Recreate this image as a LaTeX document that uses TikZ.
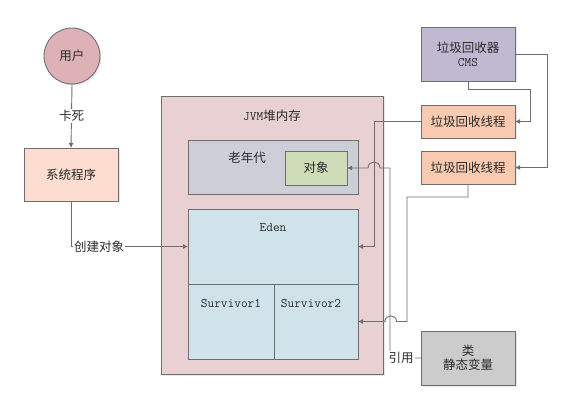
\documentclass[tikz,border=0pt]{standalone}
\usepackage{fontspec}
\setmainfont{Noto Sans CJK SC}
\newcommand{\lmono}{\ttfamily}
\usetikzlibrary{arrows.meta,shadows}
\definecolor{linec}{HTML}{6E6E6E}
\definecolor{txtc}{HTML}{2A2A2A}
\definecolor{userc}{HTML}{DDB1B5}
\definecolor{sysc}{HTML}{FCDDD0}
\definecolor{jvmc}{HTML}{E9D1D3}
\definecolor{oldc}{HTML}{CDCFD8}
\definecolor{objc}{HTML}{CEDCB8}
\definecolor{edenc}{HTML}{D1E3EA}
\definecolor{cmsc}{HTML}{C1B9D1}
\definecolor{thrc}{HTML}{F9C9B0}
\definecolor{clsc}{HTML}{CCCCCC}
\begin{document}
\begin{tikzpicture}[x=1pt,y=-1pt,
  every node/.style={text=txtc, font=\fontsize{12.5}{15}\selectfont},
  box/.style={draw=linec, line width=0.9pt, inner sep=0pt, outer sep=0pt, anchor=north west,
    drop shadow={shadow xshift=1.5pt, shadow yshift=-1.5pt, fill=black!15, opacity=0.6}},
  plainbox/.style={draw=linec, line width=0.9pt, inner sep=0pt, outer sep=0pt, anchor=north west},
  conn/.style={draw=linec, line width=0.9pt, -{Latex[length=5pt,width=5pt]}},
  lbl/.style={fill=white, inner sep=1pt},
  mono/.style={font=\lmono\fontsize{13}{15}\selectfont}]
\useasboundingbox (0,0) rectangle (579,409);
% user
\node[draw=linec, line width=0.9pt, circle, fill=userc, minimum size=56pt, inner sep=0pt, outer sep=0pt,
  drop shadow={shadow xshift=1.5pt, shadow yshift=-1.5pt, fill=black!15, opacity=0.6}] (user) at (72,56) {用户};
\node[box, fill=sysc, minimum width=94pt, minimum height=53pt] (sys) at (24,148) {系统程序};
% JVM heap
\node[box, fill=jvmc, minimum width=222pt, minimum height=278pt] (jvm) at (161,96) {};
\node (jvmlbl) at (272,116) {{\lmono\fontsize{13}{15}\selectfont JVM}堆内存};
\node[box, fill=oldc, minimum width=170pt, minimum height=54pt] (old) at (188,140) {};
\node (oldlbl) at (247,158) {老年代};
\node[box, fill=objc, minimum width=62pt, minimum height=34pt] (obj) at (285,151) {对象};
\node[box, fill=edenc, minimum width=170pt, minimum height=75pt] (eden) at (188,209) {};
\node[plainbox, fill=edenc, minimum width=86pt, minimum height=75pt] (s1) at (188,284) {};
\node[plainbox, fill=edenc, minimum width=84pt, minimum height=75pt] (s2) at (274,284) {};
\node[mono] (edenlbl) at (273,228) {Eden};
\node[mono] (s1lbl) at (231,304) {Survivor1};
\node[mono] (s2lbl) at (311,304) {Survivor2};
% right side
\node[box, fill=cmsc, minimum width=94pt, minimum height=54pt, align=center] (cms) at (421,27)
  {垃圾回收器\\[-1pt]{\lmono\fontsize{13}{15}\selectfont CMS}};
\node[box, fill=thrc, minimum width=94pt, minimum height=33pt] (t1) at (421,105) {垃圾回收线程};
\node[box, fill=thrc, minimum width=94pt, minimum height=33pt] (t2) at (421,151) {垃圾回收线程};
\node[box, fill=clsc, minimum width=94pt, minimum height=54pt, align=center] (cls) at (421,331)
  {类\\[-1pt]静态变量};
% connectors
\draw[conn] (user.south) -- (sys.north) node[lbl, pos=0.5] (kasi) {卡死};
\draw[conn] (sys.south) |- (eden.west) node[lbl, pos=0.62] (create) {创建对象};
\draw[conn] (cms.south) -- ++(0,8) -| ([xshift=15pt]t1.east) -- (t1.east);
\draw[conn] (cms.east) -- ++(32,0) |- (t2.east);
\draw[conn] (t1.west) -- ++(-47,0) |- (eden.east);
\draw[conn] (t2.south) -- ++(0,13) -- (407,197) -- (407,321.5) -- (396.5,321.5)
  .. controls (396.5,314) and (385,314) .. (385,321.5) -- (s2.east);
\draw[conn] (cls.west) -- (390,358) -- (390,168) -- (380,168)
  .. controls (380,160) and (368,160) .. (368,168) -- (obj.east);
\node[lbl] (ref) at (401,358) {引用};
\end{tikzpicture}
\end{document}
